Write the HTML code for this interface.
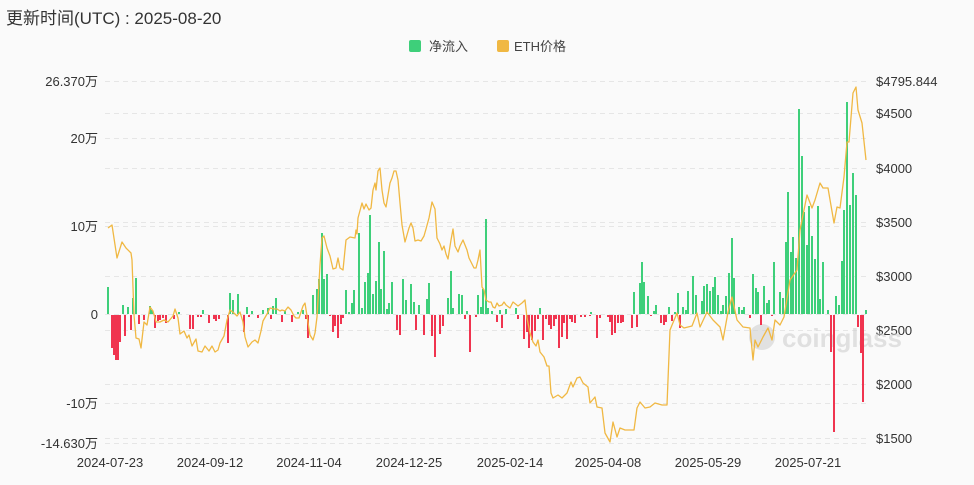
<!DOCTYPE html>
<html><head><meta charset="utf-8"><style>
html,body{margin:0;padding:0;background:#fafafa;}
body{width:974px;height:485px;overflow:hidden;font-family:"Liberation Sans","Noto Sans CJK SC",sans-serif;}
</style></head><body>
<svg id="s" width="974" height="485" xmlns="http://www.w3.org/2000/svg" style="position:absolute;left:0;top:0">
<rect width="974" height="485" fill="#fafafa"/>
<text x="6" y="24" font-size="17" fill="#333" font-family="Liberation Sans,Noto Sans CJK SC,sans-serif">更新时间(UTC) : 2025-08-20</text>
<rect x="409" y="40" width="12" height="12" rx="2" fill="#3ecf7a"/>
<text x="429" y="51" font-size="13" fill="#444" font-family="Liberation Sans,Noto Sans CJK SC,sans-serif">净流入</text>
<rect x="497" y="40" width="12" height="12" rx="2" fill="#f0b843"/>
<text x="514" y="51" font-size="13" fill="#444" font-family="Liberation Sans,Noto Sans CJK SC,sans-serif">ETH价格</text>
<g id="grid" stroke="#e6e6e6" stroke-width="1" stroke-dasharray="5,4"></g>
<g font-size="13" fill="#333" text-anchor="end" font-family="Liberation Sans,Noto Sans CJK SC,sans-serif">
<text x="98" y="86">26.370万</text><text x="98" y="143">20万</text><text x="98" y="231">10万</text>
<text x="98" y="319">0</text><text x="98" y="408">-10万</text><text x="98" y="448">-14.630万</text>
</g>
<g font-size="13" fill="#333" font-family="Liberation Sans,sans-serif">
<text x="876" y="86">$4795.844</text><text x="876" y="118">$4500</text><text x="876" y="173">$4000</text>
<text x="876" y="227">$3500</text><text x="876" y="281">$3000</text><text x="876" y="335">$2500</text>
<text x="876" y="389">$2000</text><text x="876" y="443">$1500</text>
</g>
<g font-size="13" fill="#333" text-anchor="middle" font-family="Liberation Sans,sans-serif">
<text x="110" y="467">2024-07-23</text><text x="210" y="467">2024-09-12</text><text x="309" y="467">2024-11-04</text>
<text x="409" y="467">2024-12-25</text><text x="510" y="467">2025-02-14</text><text x="608" y="467">2025-04-08</text>
<text x="708" y="467">2025-05-29</text><text x="808" y="467">2025-07-21</text>
</g>
<circle cx="762" cy="337" r="13" fill="#d0d0d0" opacity="0.6"/>
<text x="782" y="347" font-size="26" font-weight="bold" fill="#d0d0d0" opacity="0.6" font-family="Liberation Sans,sans-serif">coinglass</text>
<g id="bars"></g>
<polyline id="line" fill="none" stroke="#f0b843" stroke-width="1.3" stroke-linejoin="round"/>
</svg>
<script>
var NS="http://www.w3.org/2000/svg";
var g=document.getElementById("grid");
[81,138,226,314,403,443,113,168,222,276,330,384,438].forEach(function(y){var l=document.createElementNS(NS,"line");l.setAttribute("x1",105);l.setAttribute("x2",868);l.setAttribute("y1",y+0.5);l.setAttribute("y2",y+0.5);g.appendChild(l);});
var green=[[108,27],[123,9],[128,7],[133,16],[136,36],[150,8],[152,4],[179,2],[203,4],[230,21],[233,14],[238,20],[247,7],[252,3],[263,4],[268,6],[273,8],[276,16],[285,3],[298,2],[303,4],[313,19],[317,25],[319,35],[322,81],[324,35],[327,40],[346,24],[349,2],[352,11],[354,24],[359,81],[362,6],[365,32],[368,41],[370,99],[373,20],[376,33],[379,72],[381,25],[384,63],[387,5],[389,11],[392,32],[403,35],[406,14],[411,30],[414,12],[419,9],[427,15],[429,31],[448,16],[451,43],[453,6],[459,20],[462,19],[467,3],[478,19],[481,7],[483,25],[486,95],[488,6],[492,3],[500,4],[506,5],[516,6],[540,6],[591,2],[634,22],[640,31],[642,52],[644,32],[648,18],[654,3],[656,9],[669,7],[675,2],[678,21],[683,7],[686,4],[688,23],[693,38],[696,19],[702,13],[704,28],[707,30],[710,23],[713,27],[715,37],[718,19],[721,3],[723,9],[726,18],[729,41],[732,76],[734,36],[739,7],[742,4],[744,7],[753,40],[756,26],[758,22],[764,28],[767,11],[769,14],[774,52],[780,22],[783,16],[786,72],[788,122],[791,62],[793,77],[796,56],[799,205],[802,158],[804,102],[807,69],[809,108],[812,78],[815,55],[818,108],[820,15],[823,52],[828,4],[836,18],[839,9],[842,53],[844,104],[847,212],[850,109],[853,141],[856,119],[866,4]];
var red=[[112,33],[114,40],[116,45],[118,45],[120,27],[125,21],[131,15],[139,9],[144,5],[155,13],[158,6],[160,5],[163,3],[166,8],[174,4],[190,14],[193,14],[198,2],[201,2],[209,8],[214,4],[216,6],[219,4],[228,28],[244,17],[249,2],[258,3],[271,4],[282,7],[292,7],[306,4],[308,23],[330,1],[333,17],[335,11],[338,23],[341,9],[343,3],[397,15],[400,20],[416,15],[424,20],[432,21],[435,42],[440,19],[443,11],[465,4],[470,37],[476,2],[497,7],[502,13],[518,4],[524,24],[527,17],[529,33],[532,25],[535,16],[538,4],[543,25],[546,4],[549,10],[551,14],[554,11],[556,4],[559,33],[562,22],[564,8],[567,24],[570,4],[572,7],[575,8],[581,2],[585,2],[590,1],[597,23],[600,3],[608,2],[610,7],[612,20],[615,18],[618,8],[621,8],[623,7],[632,13],[637,12],[651,1],[661,8],[664,10],[666,7],[672,6],[680,13],[750,3],[761,10],[772,1],[831,37],[834,117],[858,12],[861,38],[863,87]];
var b=document.getElementById("bars");
function bar(x,y,h,c){var r=document.createElementNS(NS,"rect");r.setAttribute("x",x-1);r.setAttribute("y",y);r.setAttribute("width",2);r.setAttribute("height",Math.max(h,1));r.setAttribute("fill",c);b.appendChild(r);}
green.forEach(function(d){bar(d[0],314-d[1],d[1],"#3ecf7a");});
red.forEach(function(d){bar(d[0],315,d[1],"#f0344f");});
var pts=[[108,228],[112,225],[117,258],[122,242],[126,248],[131,253],[132,260],[134,315],[136,338],[139,339],[141,348],[144,322],[147,325],[150,307],[153,311],[156,322],[160,322],[164,320],[168,322],[173,316],[175,309],[178,318],[180,334],[184,331],[187,338],[189,335],[192,346],[196,339],[198,351],[202,352],[205,346],[209,351],[212,346],[215,352],[218,350],[220,343],[224,336],[227,320],[230,310],[234,313],[237,316],[240,312],[243,322],[245,337],[248,347],[252,342],[255,340],[258,343],[261,331],[263,321],[267,314],[270,308],[274,309],[277,309],[280,311],[282,310],[285,311],[288,307],[291,310],[294,316],[296,318],[299,318],[301,312],[303,306],[305,303],[307,316],[310,335],[313,340],[315,333],[317,317],[320,265],[322,238],[324,236],[327,248],[330,256],[333,269],[336,268],[338,258],[340,268],[343,270],[346,240],[350,237],[355,238],[356,230],[357,234],[358,218],[362,203],[364,209],[366,204],[369,210],[371,208],[373,190],[375,183],[376,190],[378,171],[380,168],[382,190],[384,203],[386,207],[388,195],[390,183],[392,178],[394,171],[396,171],[398,180],[400,203],[402,225],[405,242],[407,235],[409,228],[411,223],[413,228],[415,241],[418,240],[421,241],[424,236],[426,229],[429,218],[432,202],[435,209],[437,238],[440,244],[442,250],[444,246],[446,254],[448,259],[451,240],[453,229],[455,246],[458,252],[460,246],[463,240],[465,245],[467,250],[469,258],[471,262],[474,268],[476,268],[478,260],[480,250],[482,287],[484,290],[486,300],[489,302],[491,302],[493,307],[495,308],[497,303],[499,306],[502,305],[504,302],[506,305],[510,308],[513,302],[518,306],[522,303],[525,300],[527,318],[530,333],[533,342],[536,346],[538,340],[540,352],[544,357],[547,366],[549,366],[551,393],[553,398],[558,395],[562,398],[567,393],[571,382],[573,387],[577,378],[580,377],[583,383],[588,387],[590,403],[595,397],[597,407],[602,408],[605,433],[610,442],[613,422],[617,437],[620,428],[625,430],[634,430],[637,408],[640,402],[645,408],[650,407],[655,403],[662,405],[667,405],[670,330],[677,313],[680,325],[684,328],[692,326],[697,313],[700,327],[707,312],[713,320],[720,327],[723,340],[728,312],[732,297],[737,320],[743,327],[750,328],[753,360],[755,340],[758,347],[763,337],[768,328],[772,340],[775,320],[780,325],[784,317],[790,280],[797,270],[800,230],[807,195],[812,208],[815,200],[820,183],[823,188],[828,188],[834,223],[837,207],[840,208],[844,177],[847,142],[849,142],[853,93],[856,87],[858,110],[862,123],[866,160]];
document.getElementById("line").setAttribute("points",pts.map(function(p){return p.join(",");}).join(" "));
</script>
</body></html>
